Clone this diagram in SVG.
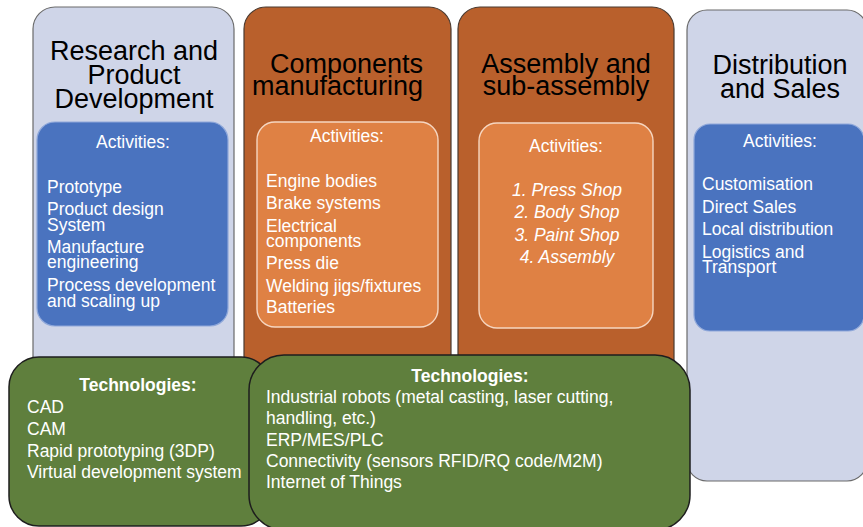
<svg xmlns="http://www.w3.org/2000/svg" width="863" height="527" viewBox="0 0 863 527">
<style>
.lav{fill:#CFD5E8;stroke:#6A6A6A;stroke-width:1.2}
.org{fill:#B9602C;stroke:#4A3A30;stroke-width:1.2}
.blue{fill:#4A73BF;stroke:#8FA8DA;stroke-width:1.2}
.lorg{fill:#DF8144;stroke:#F6D6C0;stroke-width:1.4}
.grn{fill:#5F7F3D;stroke:#1E1E1E;stroke-width:1.5}
.ttl{font-family:"Liberation Sans",Arial,sans-serif;font-size:27px;fill:#000;text-anchor:middle}
.act{font-family:"Liberation Sans",Arial,sans-serif;font-size:17.5px;fill:#fff;text-anchor:middle}
.itm{font-family:"Liberation Sans",Arial,sans-serif;font-size:17.5px;fill:#fff}
.ital{font-family:"Liberation Sans",Arial,sans-serif;font-size:17.5px;fill:#fff;font-style:italic;text-anchor:middle}
.tech{font-family:"Liberation Sans",Arial,sans-serif;font-size:17.5px;fill:#fff;font-weight:bold;text-anchor:middle}
.tt{font-family:"Liberation Sans",Arial,sans-serif;font-size:17.5px;fill:#fff}
</style>
<g id="connectors"></g>
<g id="research">
<rect class="lav" x="33" y="7" width="201" height="420" rx="22"/>
<text class="ttl"><tspan x="134" y="60">Research and</tspan><tspan x="134" y="84">Product</tspan><tspan x="134" y="108">Development</tspan></text>
<rect class="blue" x="37" y="122" width="191" height="204" rx="18"/>
<text class="act" x="133" y="148">Activities:</text>
<text class="itm" x="47" y="193">Prototype</text>
<text class="itm"><tspan x="47" y="215">Product design</tspan><tspan x="47" y="231">System</tspan></text>
<text class="itm"><tspan x="47" y="253">Manufacture</tspan><tspan x="47" y="268">engineering</tspan></text>
<text class="itm"><tspan x="47" y="291">Process development</tspan><tspan x="47" y="307">and scaling up</tspan></text>
</g>
<g id="components">
<rect class="org" x="244" y="7" width="207" height="420" rx="22"/>
<text class="ttl" style="text-anchor:end"><tspan x="423" y="73">Components</tspan><tspan x="423" y="95">manufacturing</tspan></text>
<rect class="lorg" x="257" y="122" width="181" height="205" rx="18"/>
<text class="act" x="347" y="142">Activities:</text>
<text class="itm" x="266" y="187">Engine bodies</text>
<text class="itm" x="266" y="209">Brake systems</text>
<text class="itm"><tspan x="266" y="232">Electrical</tspan><tspan x="266" y="247">components</tspan></text>
<text class="itm" x="266" y="269">Press die</text>
<text class="itm" x="266" y="292">Welding jigs/fixtures</text>
<text class="itm" x="266" y="313">Batteries</text>
</g>
<g id="assembly">
<rect class="org" x="458" y="7" width="216" height="420" rx="22"/>
<text class="ttl"><tspan x="566" y="73">Assembly and</tspan><tspan x="566" y="95">sub-assembly</tspan></text>
<rect class="lorg" x="479" y="123" width="174" height="205" rx="18"/>
<text class="act" x="566" y="152">Activities:</text>
<text class="ital" x="567" y="196">1. Press Shop</text>
<text class="ital" x="567" y="218">2. Body Shop</text>
<text class="ital" x="567" y="241">3. Paint Shop</text>
<text class="ital" x="567" y="263">4. Assembly</text>
</g>
<g id="distribution">
<rect class="lav" x="687" y="10" width="180" height="471" rx="20"/>
<text class="ttl"><tspan x="780" y="74">Distribution</tspan><tspan x="780" y="98">and Sales</tspan></text>
<rect class="blue" x="694" y="124" width="170" height="207" rx="16"/>
<text class="act" x="780" y="147">Activities:</text>
<text class="itm" x="702" y="190">Customisation</text>
<text class="itm" x="702" y="213">Direct Sales</text>
<text class="itm" x="702" y="235">Local distribution</text>
<text class="itm"><tspan x="702" y="258">Logistics and</tspan><tspan x="702" y="273">Transport</tspan></text>
</g>
<g id="tech-left">
<rect class="grn" x="9" y="357" width="262" height="169" rx="30"/>
<text class="tech" x="138" y="391">Technologies:</text>
<text class="tt" x="27" y="413">CAD</text>
<text class="tt" x="27" y="435">CAM</text>
<text class="tt" x="27" y="457">Rapid prototyping (3DP)</text>
<text class="tt" x="27" y="478">Virtual development system</text>
</g>
<g id="tech-right">
<rect class="grn" x="249" y="355" width="441" height="175" rx="35"/>
<text class="tech" x="470" y="382">Technologies:</text>
<text class="tt"><tspan x="266" y="403">Industrial robots (metal casting, laser cutting,</tspan><tspan x="266" y="424">handling, etc.)</tspan></text>
<text class="tt" x="266" y="446">ERP/MES/PLC</text>
<text class="tt" x="266" y="467">Connectivity (sensors RFID/RQ code/M2M)</text>
<text class="tt" x="266" y="488">Internet of Things</text>
</g>
</svg>
